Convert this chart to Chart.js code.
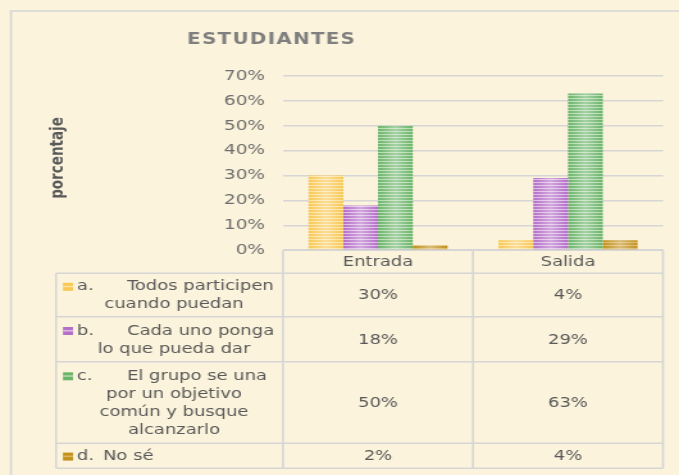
<!DOCTYPE html>
<html><head><meta charset="utf-8">
<script src="https://cdn.jsdelivr.net/npm/chart.js@4.4.0/dist/chart.umd.min.js"></script>
<style>
html,body{margin:0;padding:0;background:#FBF3DB;overflow:hidden;}
#wrap{width:679px;height:475px;overflow:hidden;}
#c{display:block;transform:scaleX(1.281132);transform-origin:0 0;}
</style></head><body>
<div id="wrap"><canvas id="c" width="530" height="475" style="width:530px;height:475px"></canvas></div>
<script>
// ---- data ----
const categories = ['Entrada', 'Salida'];
const seriesKeys = ['a.', 'b.', 'c.', 'd.'];
const seriesText = [
  ['Todos participen', 'cuando puedan'],
  ['Cada uno ponga', 'lo que pueda dar'],
  ['El grupo se una', 'por un objetivo', 'común y busque', 'alcanzarlo'],
  ['No sé']
];
const serieA = [0.30, 0.04];
const serieB = [0.18, 0.29];
const serieC = [0.50, 0.63];
const serieD = [0.02, 0.04];
const yTickValues = [0, 0.1, 0.2, 0.3, 0.4, 0.5, 0.6, 0.7];
const chartTitle = 'ESTUDIANTES';
const yTitle = 'porcentaje';

// ---- style ----
const K = 679 / 530;
const rx = x => x / K;
const BG = '#FBF3DB';
const LINE = '#D6D6D6';
const TXT = '#595959';
const palette = [
  ['#F8C853', '#FCE3A2'],
  ['#B46FC8', '#DDB9E6'],
  ['#6BB56A', '#B4DAAF'],
  ['#C2911E', '#DDB65E']
];
const rowEdges = [250.2, 273.3, 316.7, 361.7, 443.3, 468.3];

function stripe(dark, light) {
  const p = document.createElement('canvas');
  p.width = 4; p.height = 3;
  const g = p.getContext('2d');
  g.fillStyle = dark; g.fillRect(0, 0, 4, 3);
  g.fillStyle = light; g.fillRect(0, 2, 4, 1);
  return g.createPattern(p, 'repeat');
}

Chart.defaults.font.family = "'DejaVu Sans', Verdana, sans-serif";

const seriesData = [serieA, serieB, serieC, serieD];
const datasets = seriesData.map((d, i) => ({
  label: seriesKeys[i] + ' ' + seriesText[i].join(' '),
  data: d,
  backgroundColor: stripe(palette[i][0], palette[i][1]),
  borderWidth: 0,
  categoryPercentage: 0.732,
  barPercentage: 1
}));

const pct = v => Math.round(v * 100) + '%';

const deco = {
  id: 'deco',
  beforeDraw(chart) {
    const ctx = chart.ctx;
    ctx.save();
    ctx.fillStyle = BG;
    ctx.fillRect(0, 0, chart.width, chart.height);
    ctx.strokeStyle = LINE;
    ctx.lineWidth = 1.6;
    ctx.beginPath();
    ctx.moveTo(rx(11), 500); ctx.lineTo(rx(11), 11); ctx.lineTo(chart.width + 10, 11);
    ctx.stroke();
    // title
    ctx.fillStyle = '#7F7F7F';
    ctx.font = "bold 15.5px 'DejaVu Sans'";
    ctx.letterSpacing = '1px';
    ctx.textAlign = 'center';
    ctx.textBaseline = 'middle';
    ctx.fillText(chartTitle, rx(271) + 0.5, 40);
    ctx.restore();
    // y title
    ctx.save();
    ctx.translate(rx(58), 158);
    ctx.rotate(-Math.PI / 2);
    ctx.fillStyle = TXT;
    ctx.font = "bold 13.5px 'DejaVu Sans'";
    ctx.textAlign = 'center';
    ctx.textBaseline = 'middle';
    ctx.fillText(yTitle, 0, 0);
    ctx.restore();
  },
  afterDatasetsDraw(chart) {
    const ctx = chart.ctx;
    ctx.save();
    chart.data.datasets.forEach((ds, i) => {
      chart.getDatasetMeta(i).data.forEach(bar => {
        const l = bar.x - bar.width / 2, r = bar.x + bar.width / 2;
        const g = ctx.createLinearGradient(l, 0, r, 0);
        g.addColorStop(0, 'rgba(255,255,255,0)');
        g.addColorStop(0.5, 'rgba(255,255,255,0.4)');
        g.addColorStop(1, 'rgba(255,255,255,0)');
        ctx.fillStyle = g;
        ctx.fillRect(l, Math.min(bar.y, bar.base), bar.width, Math.abs(bar.base - bar.y));
      });
    });
    ctx.restore();
  },
  afterDraw(chart) {
    const ctx = chart.ctx;
    const xs = chart.scales.x;
    const area = chart.chartArea;
    const cx = categories.map((c, i) => xs.getPixelForValue(i));
    const colEdges = [area.left, (cx[0] + cx[1]) / 2, area.right];
    const legL = rx(56);
    ctx.save();
    ctx.strokeStyle = LINE;
    ctx.lineWidth = 1.6;
    ctx.beginPath();
    ctx.moveTo(area.left, rowEdges[0]); ctx.lineTo(area.right, rowEdges[0]);
    for (let r = 1; r < rowEdges.length; r++) {
      ctx.moveTo(legL, rowEdges[r]); ctx.lineTo(area.right, rowEdges[r]);
    }
    ctx.moveTo(legL, rowEdges[1]); ctx.lineTo(legL, rowEdges[rowEdges.length - 1]);
    colEdges.forEach(x => { ctx.moveTo(x, rowEdges[0]); ctx.lineTo(x, rowEdges[rowEdges.length - 1]); });
    ctx.stroke();

    ctx.fillStyle = TXT;
    ctx.font = "14px 'DejaVu Sans'";
    ctx.textBaseline = 'middle';
    ctx.textAlign = 'center';
    categories.forEach((c, i) => ctx.fillText(c, cx[i], (rowEdges[0] + rowEdges[1]) / 2 + 0.5));
    seriesData.forEach((d, s) => {
      const mid = (rowEdges[s + 1] + rowEdges[s + 2]) / 2 + 0.8;
      ctx.textAlign = 'center';
      ctx.fillStyle = TXT;
      d.forEach((v, i) => ctx.fillText(pct(v), cx[i], mid));
      const lines = seriesText[s];
      const n = lines.length;
      lines.forEach((t, li) => {
        const y = mid + (li - (n - 1) / 2) * 18;
        if (li === 0) {
          ctx.fillStyle = palette[s][0];
          ctx.fillRect(rx(63), y - 4, rx(73) - rx(63), 8);
          ctx.fillStyle = palette[s][1];
          ctx.fillRect(rx(63), y - 1, rx(73) - rx(63), 1.5);
          ctx.fillStyle = TXT;
          ctx.textAlign = 'left';
          ctx.fillText(seriesKeys[s], rx(77), y);
          ctx.fillText(t, n === 1 ? rx(103) : rx(127), y);
        } else {
          ctx.textAlign = 'center';
          ctx.fillText(t, rx(174), y);
        }
      });
    });
    ctx.restore();
  }
};

new Chart(document.getElementById('c'), {
  type: 'bar',
  data: { labels: categories, datasets },
  options: {
    responsive: false,
    animation: false,
    devicePixelRatio: 1,
    layout: { padding: { left: rx(283) - 100, right: 530 - rx(663), top: 76, bottom: 475 - 250.2 } },
    plugins: { legend: { display: false }, tooltip: { enabled: false }, title: { display: false } },
    scales: {
      x: { display: false },
      y: {
        min: 0, max: 0.7,
        afterBuildTicks: s => { s.ticks = yTickValues.map(v => ({ value: v })); },
        afterFit: s => { s.width = 100; },
        border: { display: false },
        grid: { color: LINE, lineWidth: 1.6, drawTicks: false },
        ticks: { padding: 14, color: '#6E6E6E', font: { size: 14.5 }, callback: v => pct(v) }
      }
    }
  },
  plugins: [deco]
});
</script>
</body></html>
